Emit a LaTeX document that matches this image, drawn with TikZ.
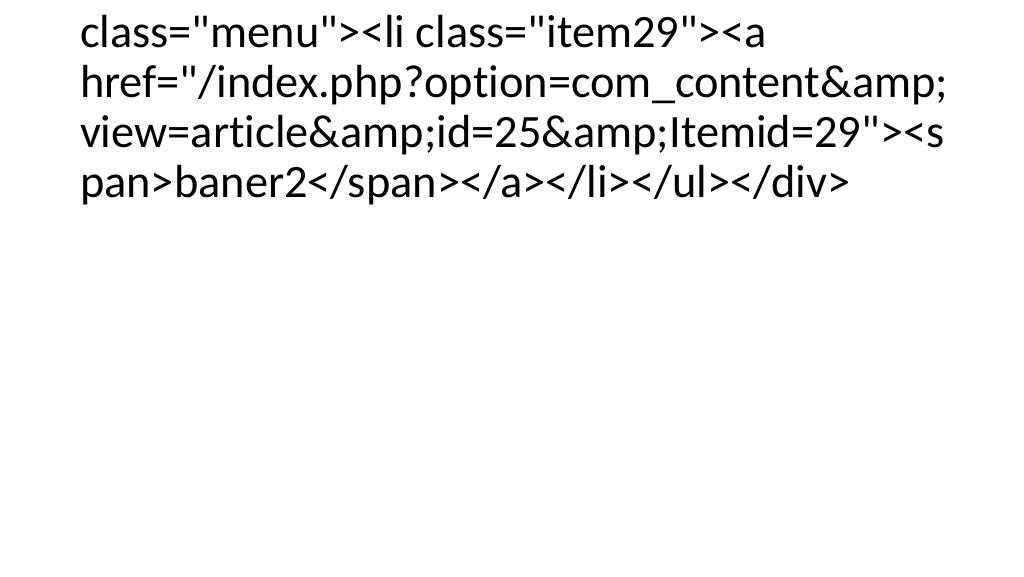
\documentclass[tikz,border=0pt]{standalone}
\usepackage{fontspec}
\setmainfont{Carlito}[Ligatures={NoCommon}]
\newcommand{\dq}{\textquotedbl}
\begin{document}
\begin{tikzpicture}[x=1pt,y=1pt,
  codeline/.style={anchor=base west,inner sep=0pt,outer sep=0pt,
    font=\fontsize{46.4}{50}\selectfont,text=black}]
\useasboundingbox[fill=white] (0,0) rectangle (1024,-576);
\node[codeline] (l1) at (80,-47) {class=\dq menu\dq><li class=\dq item29\dq><a};
\node[codeline] (l2) at (80,-97) {href=\dq/index.php?option=com\_content\&amp;};
\node[codeline] (l3) at (80,-147) {view=article\&amp;id=25\&amp;Itemid=29\dq><s};
\node[codeline] (l4) at (80,-197) {pan>baner2</span></a></li></ul></div>};
\end{tikzpicture}
\end{document}
